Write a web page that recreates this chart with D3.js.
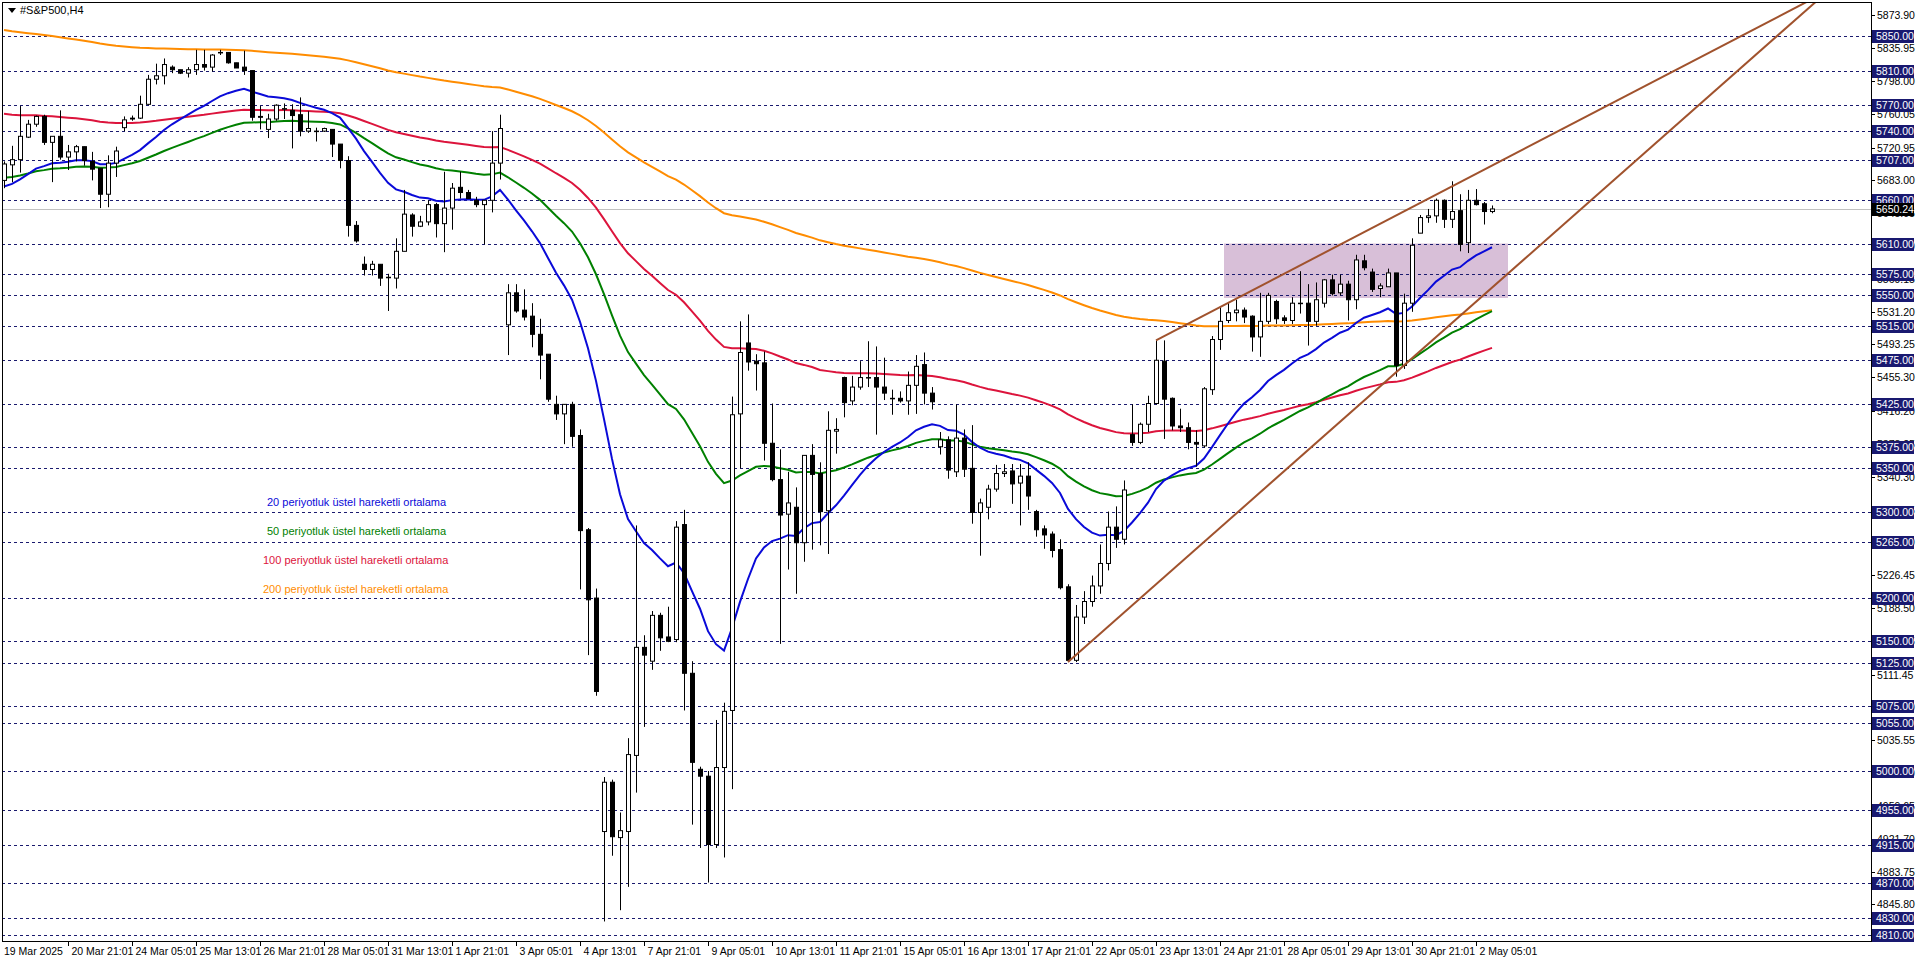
<!DOCTYPE html>
<html><head><meta charset="utf-8">
<script src="https://cdn.jsdelivr.net/npm/d3@7"></script>
<style>html,body{margin:0;padding:0;background:#fff;overflow:hidden}svg{display:block}</style>
</head><body><svg id="c" width="1916" height="963"></svg>
<script>
// ---- DATA ----
const opens  = [5683,5701,5707,5733,5748,5757,5727,5734,5710,5716,5722,5705,5697,5667,5703,5744,5754,5755,5771,5800,5804,5814,5811,5807,5811,5817,5814,5831,5831,5819,5814,5810,5757,5742,5754,5766,5764,5759,5740,5740,5740,5742,5725,5706,5631,5586,5580,5586,5571,5570,5601,5643,5630,5635,5655,5633,5651,5675,5669,5660,5655,5660,5703,5516,5553,5533,5526,5505,5482,5424,5413,5424,5388,5279,5200,4930,4987,4923,4930,5018,5143,5127,5180,5155,5152,5285,5113,5002,4994,4915,5004,5070,5413,5495,5474,5472,5379,5337,5297,5305,5264,5365,5344,5301,5393,5455,5428,5444,5455,5455,5444,5431,5431,5428,5446,5470,5437,5375,5383,5346,5385,5350,5299,5305,5326,5344,5347,5333,5341,5300,5280,5274,5256,5213,5128,5178,5196,5214,5240,5282,5268,5389,5380,5401,5425,5474,5431,5399,5397,5380,5376,5441,5499,5521,5530,5533,5526,5502,5520,5543,5524,5521,5541,5541,5520,5541,5568,5553,5563,5545,5590,5577,5558,5560,5576,5469,5541,5622,5640,5642,5660,5638,5648,5611,5660,5656,5647];
const highs  = [5705,5723,5769,5753,5758,5759,5734,5764,5724,5724,5722,5716,5697,5712,5722,5757,5758,5781,5805,5818,5824,5816,5811,5814,5834,5834,5829,5834,5831,5819,5833,5810,5769,5760,5771,5772,5771,5779,5763,5744,5744,5742,5725,5711,5636,5595,5590,5586,5575,5616,5672,5645,5642,5660,5657,5693,5680,5693,5672,5664,5660,5740,5759,5563,5563,5557,5541,5523,5482,5434,5424,5427,5395,5281,5211,4993,4990,4952,5038,5284,5157,5185,5183,5190,5289,5302,5127,5005,5000,5059,5079,5433,5520,5528,5482,5485,5425,5372,5346,5328,5365,5378,5357,5416,5408,5456,5457,5474,5497,5491,5478,5441,5439,5462,5481,5484,5444,5392,5387,5424,5395,5400,5315,5331,5354,5355,5355,5355,5357,5302,5284,5277,5268,5216,5192,5208,5226,5262,5300,5306,5336,5424,5403,5434,5498,5498,5432,5419,5403,5394,5444,5503,5536,5542,5545,5536,5527,5553,5553,5545,5527,5548,5578,5563,5565,5569,5574,5574,5567,5597,5597,5581,5564,5581,5576,5552,5616,5643,5650,5662,5661,5682,5667,5672,5673,5658,5654];
const lows   = [5674,5681,5692,5732,5745,5724,5681,5707,5695,5705,5700,5683,5651,5652,5687,5740,5752,5754,5770,5794,5794,5807,5806,5802,5805,5810,5809,5828,5818,5813,5805,5752,5742,5732,5752,5754,5720,5734,5738,5728,5739,5710,5697,5618,5611,5573,5573,5561,5532,5558,5601,5618,5629,5631,5617,5600,5626,5662,5662,5652,5609,5646,5684,5481,5530,5521,5490,5453,5427,5406,5378,5375,5210,5134,5087,4826,4902,4839,4866,4975,5051,5117,5139,5149,5149,5070,4938,4911,4871,4911,4900,4979,5350,5463,5440,5359,5335,5147,5233,5205,5242,5256,5261,5251,5367,5409,5423,5441,5444,5389,5429,5412,5426,5412,5413,5424,5418,5366,5338,5340,5340,5286,5249,5291,5323,5340,5309,5284,5302,5271,5257,5247,5210,5126,5126,5170,5190,5205,5232,5258,5262,5376,5378,5392,5424,5384,5394,5392,5372,5352,5374,5435,5487,5518,5520,5518,5485,5479,5517,5517,5517,5517,5529,5492,5515,5536,5550,5550,5521,5534,5579,5554,5548,5560,5456,5465,5531,5622,5634,5634,5628,5628,5601,5599,5654,5632,5645];
const closes = [5702,5707,5734,5748,5757,5727,5734,5710,5716,5722,5706,5696,5667,5703,5717,5753,5755,5771,5800,5804,5817,5811,5807,5811,5817,5814,5828,5831,5819,5813,5810,5756,5756,5754,5770,5766,5758,5740,5743,5740,5743,5725,5706,5631,5613,5580,5586,5570,5571,5601,5644,5630,5635,5655,5633,5651,5674,5669,5662,5655,5660,5703,5743,5553,5532,5525,5505,5481,5430,5413,5424,5387,5278,5198,5092,4987,4924,4931,5019,5143,5134,5180,5154,5150,5282,5113,5010,4994,4915,5004,5069,5412,5484,5473,5471,5379,5337,5296,5310,5264,5365,5343,5300,5394,5395,5426,5444,5455,5455,5444,5437,5431,5428,5446,5468,5437,5427,5383,5348,5385,5349,5299,5310,5326,5344,5346,5332,5341,5318,5279,5273,5255,5212,5128,5178,5196,5214,5240,5282,5268,5325,5380,5401,5425,5475,5430,5399,5397,5380,5378,5442,5499,5520,5530,5533,5525,5502,5520,5550,5523,5521,5541,5541,5520,5545,5568,5552,5563,5545,5591,5582,5557,5561,5576,5469,5541,5608,5640,5642,5660,5638,5647,5609,5660,5655,5647,5650];
// EMA periods, starting values read from the left edge, colours and captions
const emaPeriods = [200,100,50,20];
const emaSeeds   = [5857,5760,5686,5676];
const emaColors  = ["#ff8c00","#dc143c","#008000","#0a0ad8"];
const legendText = ["20 periyotluk üstel hareketli ortalama","50 periyotluk üstel hareketli ortalama","100 periyotluk üstel hareketli ortalama","200 periyotluk üstel hareketli ortalama"];
const legendColors = ["#0a0ad8","#008000","#dc143c","#ff8c00"];
const levels = [5850,5810,5770,5740,5707,5660,5610,5575,5550,5515,5475,5425,5375,5350,5300,5265,5200,5150,5125,5075,5055,5000,4955,4915,4870,4830,4810];
const tickLabels = [5873.90,5835.95,5798.00,5760.05,5720.95,5683.00,5645.05,5607.10,5569.15,5531.20,5493.25,5455.30,5416.20,5378.25,5340.30,5302.35,5264.40,5226.45,5188.50,5150.55,5111.45,5073.50,5035.55,4997.60,4959.65,4921.70,4883.75,4845.80];
const dateLabels = ["19 Mar 2025","20 Mar 21:01","24 Mar 05:01","25 Mar 13:01","26 Mar 21:01","28 Mar 05:01","31 Mar 13:01","1 Apr 21:01","3 Apr 05:01","4 Apr 13:01","7 Apr 21:01","9 Apr 05:01","10 Apr 13:01","11 Apr 21:01","15 Apr 05:01","16 Apr 13:01","17 Apr 21:01","22 Apr 05:01","23 Apr 13:01","24 Apr 21:01","28 Apr 05:01","29 Apr 13:01","30 Apr 21:01","2 May 05:01"];
const currentPrice = 5650.24;
// trend channel: [bar index, price]
const channelUpper = [[144,5498],[240,5960]];
const channelLower = [[133,5126],[240,6000]];
const zoneBox = {fromBar:152.5, toBar:188, top:5610, bottom:5547};

// ---- CHART ----
const svg = d3.select("#c");
const L=2,T=2,R=1871,B=941;
const F="Liberation Sans", FS="10.5px";
const x = d3.scaleLinear().domain([0,186]).range([4,1492]);
const y = d3.scaleLinear().domain([5000,5850]).range([771,36]);
svg.append("defs").append("clipPath").attr("id","clip").append("rect").attr("x",L).attr("y",T).attr("width",R-L).attr("height",B-T);
const g = svg.append("g").attr("clip-path","url(#clip)");

g.append("rect").attr("x",x(zoneBox.fromBar)).attr("width",x(zoneBox.toBar)-x(zoneBox.fromBar))
 .attr("y",y(zoneBox.top)).attr("height",y(zoneBox.bottom)-y(zoneBox.top)).attr("fill","#d8bfd8");

g.selectAll(".lv").data(levels).join("line").attr("x1",L).attr("x2",R)
 .attr("y1",d=>Math.round(y(d))+0.5).attr("y2",d=>Math.round(y(d))+0.5)
 .attr("stroke","#1a1a6e").attr("stroke-dasharray","3,3");
g.append("line").attr("x1",L).attr("x2",R).attr("y1",Math.round(y(currentPrice))+0.5).attr("y2",Math.round(y(currentPrice))+0.5).attr("stroke","#c0c0c0");

// EMAs
emaPeriods.forEach((p,k)=>{
  const a=2/(p+1); let e=emaSeeds[k]; const vals=[];
  closes.forEach((c,i)=>{ if(i>0) e=e+a*(c-e); vals.push(e); });
  g.append("path").attr("d",d3.line().x((d,i)=>x(i)).y(d=>y(d))(vals)).attr("fill","none").attr("stroke",emaColors[k]).attr("stroke-width",2);
});

// candles
const idx = d3.range(closes.length);
g.selectAll(".wk").data(idx).join("line").attr("x1",i=>Math.round(x(i))+0.5).attr("x2",i=>Math.round(x(i))+0.5)
 .attr("y1",i=>y(highs[i])).attr("y2",i=>y(lows[i])).attr("stroke","#000");
g.selectAll(".bd").data(idx).join("rect").attr("x",i=>Math.round(x(i))-1.5).attr("width",4)
 .attr("y",i=>y(Math.max(opens[i],closes[i]))).attr("height",i=>Math.max(0.5,Math.abs(y(opens[i])-y(closes[i]))))
 .attr("fill",i=>closes[i]>=opens[i]?"#fff":"#000").attr("stroke","#000");

// channel
[channelUpper,channelLower].forEach(c=>g.append("line").attr("x1",x(c[0][0])).attr("y1",y(c[0][1])).attr("x2",x(c[1][0])).attr("y2",y(c[1][1])).attr("stroke","#a0522d").attr("stroke-width",2));

// legend
g.selectAll(".lg").data(legendText).join("text").attr("x",(d,i)=>i<2?267:263).attr("y",(d,i)=>506+i*29)
 .attr("fill",(d,i)=>legendColors[i]).attr("font-family",F).attr("font-size","11px").text(d=>d);

// frame
svg.append("rect").attr("x",L+0.5).attr("y",T+0.5).attr("width",R-L).attr("height",B-T).attr("fill","none").attr("stroke","#000");
svg.append("path").attr("d","M8,8 L16,8 L12,13 Z").attr("fill","#000");
svg.append("text").attr("x",20).attr("y",14).attr("font-family",F).attr("font-size","11px").text("#S&P500,H4");

// price axis
tickLabels.forEach(v=>{
  const yy=Math.round(y(v));
  svg.append("line").attr("x1",R).attr("x2",R+4).attr("y1",yy+0.5).attr("y2",yy+0.5).attr("stroke","#000");
  svg.append("text").attr("x",R+6).attr("y",yy+4).attr("font-family",F).attr("font-size",FS).text(v.toFixed(2));
});
levels.concat([currentPrice]).forEach(v=>{
  const yy=Math.round(y(v)); const cur=v===currentPrice;
  svg.append("rect").attr("x",R+1).attr("y",yy-6).attr("width",42).attr("height",13).attr("fill",cur?"#000":"#191970");
  svg.append("text").attr("x",R+5).attr("y",yy+4).attr("fill","#fff").attr("font-family",F).attr("font-size",FS).text(v.toFixed(2));
});

// time axis
dateLabels.forEach((d,k)=>{
  const xx=Math.round(x(8*k))+0.5;
  if(k>0) svg.append("line").attr("x1",xx).attr("x2",xx).attr("y1",B).attr("y2",B+5).attr("stroke","#000");
  svg.append("text").attr("x",k===0?4:xx+3).attr("y",B+14).attr("font-family",F).attr("font-size",FS).text(d);
});
</script></body></html>
